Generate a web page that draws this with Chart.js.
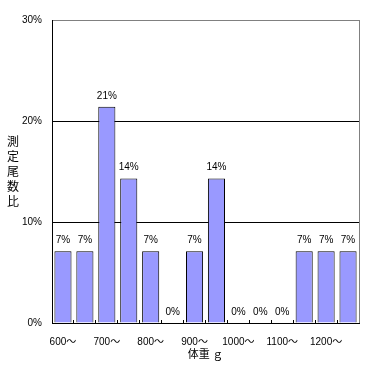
<!DOCTYPE html>
<html lang="ja">
<head>
    <meta charset="UTF-8">
    <title>体重別 測定尾数比</title>
    <script src="https://cdn.jsdelivr.net/npm/chart.js"></script>
    <style>
        body { margin: 0; background: #fff; }
        #wrap { width: 367px; height: 367px; }
    </style>
</head>
<body>
    <div id="wrap">
        <canvas id="weightChart" width="367" height="367"></canvas>
    </div>

    <script>
        // weight classes (50 g steps), only every second one is labelled
        const categories = ['600〜', '650〜', '700〜', '750〜', '800〜', '850〜', '900〜',
                            '950〜', '1000〜', '1050〜', '1100〜', '1150〜', '1200〜', '1250〜'];
        // share of measured fish, %
        const shares = [7.1, 7.1, 21.4, 14.3, 7.1, 0, 7.1, 14.3, 0, 0, 0, 7.1, 7.1, 7.1];
        const yTicks = [0, 10, 20, 30];

        const FONT = "'Liberation Sans', 'Noto Sans CJK JP', sans-serif";
        const JP_FONT = "'Noto Sans CJK JP', sans-serif";

        // labels above bars, axis titles and the right frame line
        const extras = {
            id: 'extras',
            afterDatasetsDraw(chart) {
                const ctx = chart.ctx;
                const area = chart.chartArea;
                ctx.save();

                // right + top frame in grey
                ctx.strokeStyle = '#808080';
                ctx.lineWidth = 1;
                ctx.beginPath();
                ctx.moveTo(Math.round(area.right) + 0.5, area.top);
                ctx.lineTo(Math.round(area.right) + 0.5, area.bottom);
                ctx.stroke();

                // value labels
                ctx.fillStyle = '#000';
                ctx.font = '10px ' + FONT;
                ctx.textAlign = 'center';
                ctx.textBaseline = 'middle';
                chart.getDatasetMeta(0).data.forEach((bar, i) => {
                    ctx.fillText(Math.round(shares[i]) + '%', bar.x, bar.y - 11);
                });

                // x axis title
                ctx.font = '11px ' + JP_FONT;
                ctx.fillText('体重 ｇ', (area.left + area.right) / 2, 354);

                // y axis title, one character per line
                const yTitle = '測定尾数比';
                const midY = (area.top + area.bottom) / 2;
                ctx.font = '12px ' + JP_FONT;
                for (let i = 0; i < yTitle.length; i++) {
                    ctx.fillText(yTitle[i], 13, midY + (i - 2) * 15);
                }
                ctx.restore();
            }
        };

        new Chart(document.getElementById('weightChart'), {
            type: 'bar',
            data: {
                labels: categories,
                datasets: [{
                    data: shares,
                    backgroundColor: '#9999FF',
                    borderColor: '#000',
                    borderWidth: 1,
                    categoryPercentage: 1,
                    barPercentage: 0.78
                }]
            },
            options: {
                responsive: false,
                animation: false,
                layout: { padding: { top: 20, right: 8, left: 0, bottom: 0 } },
                plugins: {
                    legend: { display: false },
                    tooltip: { enabled: false }
                },
                scales: {
                    x: {
                        grid: {
                            offset: true,
                            drawOnChartArea: false,
                            drawTicks: true,
                            tickLength: -3,
                            color: '#000'
                        },
                        border: { color: '#000', width: 1 },
                        ticks: {
                            autoSkip: false,
                            maxRotation: 0,
                            padding: 16,
                            color: '#000',
                            font: { family: FONT, size: 10 },
                            callback: (v, i) => (i % 2 === 0 ? categories[i] : '')
                        },
                        afterFit: (s) => { s.height = 44; }
                    },
                    y: {
                        min: yTicks[0],
                        max: yTicks[yTicks.length - 1],
                        afterBuildTicks: (s) => { s.ticks = yTicks.map(v => ({ value: v })); },
                        grid: {
                            drawTicks: false,
                            color: (c) => (c.tick && c.tick.value === 30 ? '#808080' : '#000')
                        },
                        border: { color: '#000', width: 1 },
                        ticks: {
                            padding: 10,
                            color: '#000',
                            font: { family: FONT, size: 10 },
                            callback: (v) => v + '%'
                        },
                        afterFit: (s) => { s.width = 52; }
                    }
                }
            },
            plugins: [extras]
        });
    </script>
</body>
</html>
